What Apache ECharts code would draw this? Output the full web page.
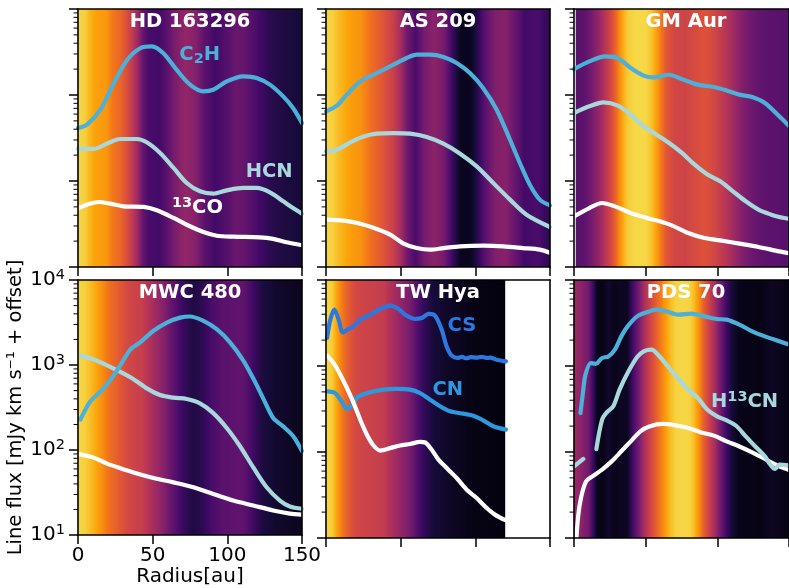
<!DOCTYPE html>
<html><head><meta charset="utf-8">
<script src="https://cdn.jsdelivr.net/npm/echarts@6/dist/echarts.min.js"></script>
<style>html,body{margin:0;padding:0;background:#fff}#c{width:789px;height:588px}</style>
</head><body><div id="c"></div>
<script>
// ---------- data: radius [au], line flux [mJy km/s + offset] ----------
const X_TICKS = [0, 50, 100, 150];
const Y_TICKS = [10, 100, 1000, 10000];
const MINOR_TICKS = [20,30,40,50,60,70,80,90,200,300,400,500,600,700,800,900,2000,3000,4000,5000,6000,7000,8000,9000];
const PANEL_NAMES = ['HD 163296', 'AS 209', 'GM Aur', 'MWC 480', 'TW Hya', 'PDS 70'];

// HD 163296
const HD163296_C2H = [[0,413],[6,452],[15,675],[24,1380],[33,2570],[42,3520],[49.4,3680],[57,3080],[66,1970],[75,1320],[84,1100],[90.6,1150],[99.6,1440],[110.7,1650],[119.6,1580],[128.5,1320],[137.4,964],[144,706],[150,472]];
const HD163296_HCN = [[0,236],[10.5,236],[19.4,272],[28.3,308],[39.4,308],[46,282],[55,212],[64,142],[72.8,94.8],[81.7,75.9],[90.6,71.3],[99.6,77.8],[110.7,83],[119.6,83],[128.5,73.8],[137.4,58.1],[144,48.5],[150,41.7]];
const HD163296_13CO = [[0,48.5],[6,53.1],[13.8,57],[21.6,54.5],[30.5,50.7],[43.9,49.9],[52.8,45.6],[64,37.2],[72.8,31],[84,25.5],[92.9,23.1],[104,22.5],[121.8,22.1],[130.7,21.2],[139.6,19.4],[150,17.9]];
// AS 209
const AS209_C2H = [[0,646],[7.3,752],[14,1010],[23,1440],[34,1800],[45.2,2250],[54,2690],[60.8,2940],[69.7,2940],[78.6,2770],[87.5,2360],[96.4,1800],[105.3,1200],[114.3,675],[123.2,302],[129.8,162],[136.5,90.6],[143.2,60.7],[150,52]];
const AS209_HCN = [[0,221],[7.3,231],[16.3,282],[25.2,330],[34,355],[45.2,361],[56.3,355],[67.5,325],[78.6,272],[89.8,208],[100.9,148],[112,94.8],[123.2,60.7],[134.3,40.6],[150,29.2]];
const AS209_13CO = [[0,35.5],[11.8,34.6],[23,31.9],[34,27.7],[43,23.8],[51.9,18.7],[60.8,16.6],[69.7,15.9],[78.6,16.6],[89.8,17.4],[105.3,17.7],[118.7,17.4],[132,16.6],[143.2,15.9],[150,14.6]];
// GM Aur
const GMAUR_C2H = [[0,2000],[10.7,2460],[21.8,2820],[30.7,2690],[39.6,2060],[48.6,1680],[55.2,1600],[66.4,1720],[75.3,1530],[86.4,1320],[97.6,1240],[106.5,1130],[115.4,1010],[124.3,948],[133.2,807],[143.2,565],[150,437]];
const GMAUR_HCN = [[0,618],[10.7,738],[20.7,822],[30.7,752],[39.6,590],[48.6,432],[57.5,346],[66.4,277],[75.3,212],[84.2,155],[93.1,119],[102,99.1],[110.9,75.9],[119.8,58.1],[128.7,46.5],[137.6,40.6],[143.2,38.1],[150,36.3]];
const GMAUR_13CO = [[0,38.8],[10.7,48.5],[19.6,55.5],[28.5,50.7],[39.6,42.5],[50.8,37.2],[59.7,34],[68.6,30.3],[79.7,24.8],[91,21.7],[102,20.4],[115.4,18.7],[128.7,17.1],[143.2,15.2],[150,14.5]];
// MWC 480
const MWC480_C2H = [[1.6,228],[8.2,372],[14.9,485],[21.6,664],[28.3,991],[35,1520],[41.6,1850],[50.6,2530],[59.5,3160],[68.4,3610],[75,3720],[84,3300],[92.9,2640],[101.8,1850],[110.7,1130],[117.4,693],[124,406],[130.7,238],[137.4,190],[144,146],[150,97.3]];
const MWC480_HCN = [[1.6,1290],[10.5,1160],[19.4,991],[28.3,830],[37.2,681],[46.1,531],[55,444],[63.9,413],[72.8,399],[81.7,355],[90.6,272],[99.6,182],[108.5,111],[117.4,62.4],[126.3,36.5],[135.2,25.5],[141.9,21.7],[150,20.4]];
const MWC480_13CO = [[1.6,89.1],[10.5,81.5],[19.4,69.3],[28.3,61.2],[37.2,54.5],[50.6,46.9],[63.9,41.7],[77.3,36.5],[90.6,30.5],[104,25.5],[117.4,22.3],[130.7,19.5],[141.9,17.9],[150,17.4]];
// TW Hya
const TWHYA_CS = [[0.7,2120],[2.9,3460],[5.6,4520],[8.5,3460],[11.4,2460],[15.1,2690],[18.5,2890],[22.9,3460],[29.6,3950],[36.3,4600],[43,5040],[48.6,4600],[53,3950],[59.7,3520],[64.1,3610],[68.6,4030],[73,3850],[77.5,2640],[80.8,1690],[84.2,1320],[88.6,1240],[91,1280],[94,1230],[97,1270],[100.9,1250],[104,1280],[107.6,1240],[110,1250],[114.3,1180],[117,1160],[120.5,1130]];
const TWHYA_CN = [[0.7,507],[6.2,485],[11.8,355],[14,316],[17.4,355],[21.8,444],[29.6,494],[38.5,531],[47.4,541],[56.3,531],[63,485],[69.7,406],[76.4,340],[83,297],[92,279],[98.7,264],[105.3,233],[112,199],[120.5,182]];
const TWHYA_13CO = [[0.7,1320],[5.1,1080],[9.6,793],[14,555],[18.5,372],[22.9,238],[27.4,159],[31.8,119],[36.3,104],[43,111],[49.7,119],[56.3,124],[63,131],[66.4,129],[70.8,106],[75.3,81.5],[80.8,65.2],[87.5,49.9],[94.2,36.5],[100.9,29.2],[107.6,22.3],[113.1,18.7],[120.5,16]];
// PDS 70
const PDS70_C2H = [[4.5,284],[6.2,485],[8,793],[11.8,1080],[15.1,1060],[19.6,1240],[24,1290],[28.5,1550],[33,2210],[37.4,2890],[44.1,3780],[50.8,4210],[57.5,4520],[64.1,4330],[73,3950],[82,4060],[90.9,3780],[99.8,3520],[106.5,3460],[115.4,3030],[124.3,2530],[133.2,2210],[143.2,1940],[150,1780]];
const PDS70_H13CN = [[0,68.1],[6.5,83],[10,null],[15.6,108],[19.6,238],[22.9,289],[27.4,340],[31.8,531],[37.4,830],[44.1,1270],[48.6,1480],[54.1,1550],[59.7,1290],[66.4,948],[73,706],[79.7,531],[86.4,425],[93.1,310],[99.8,260],[106.5,233],[113.1,202],[119.8,152],[126.5,116],[133.2,89.1],[136.5,73.1],[140.3,63.4],[143.2,71.3],[150,70]];
const PDS70_13CO = [[1.3,7.9],[2.9,17.9],[5.1,30.5],[8.5,45.6],[12.9,52.1],[19.6,62.4],[26.3,77.8],[33,102],[39.6,133],[46.3,174],[53,199],[61.9,212],[70.8,204],[79.7,190],[88.6,169],[97.6,155],[106.5,133],[115.4,116],[124.3,99.1],[133.2,83],[143.2,68.1],[150,61.7]];

// continuum background intensity (0..1, inferno colormap) vs radius
const HD163296_CONT = [[0,0.9],[5,0.88],[8,0.83],[12,0.79],[19,0.77],[23,0.7],[28,0.66],[32,0.6],[36,0.52],[40,0.42],[43,0.3],[47,0.22],[54,0.2],[59,0.25],[65,0.34],[72,0.4],[79,0.36],[85,0.26],[92,0.2],[99,0.24],[106,0.3],[112,0.28],[119,0.22],[128,0.15],[137,0.12],[150,0.1]];
const AS209_CONT = [[0,0.9],[5,0.88],[10,0.83],[17,0.78],[23,0.76],[30,0.68],[39,0.6],[46,0.52],[50,0.44],[55,0.3],[60,0.22],[66,0.33],[72,0.38],[79,0.33],[86,0.15],[90,0.05],[97,0.05],[102,0.15],[106,0.25],[113,0.35],[120,0.37],[126,0.3],[133,0.2],[142,0.22],[150,0.15]];
const GMAUR_CONT = [[1.2,0.25],[8,0.27],[14,0.35],[20,0.45],[25,0.55],[29,0.65],[32,0.75],[35,0.83],[38,0.88],[43,0.9],[50,0.9],[54,0.86],[57,0.8],[60,0.72],[64,0.62],[70,0.56],[78,0.55],[85,0.58],[92,0.6],[98,0.56],[105,0.5],[112,0.42],[118,0.35],[125,0.3],[132,0.27],[150,0.25]];
const MWC480_CONT = [[0,0.9],[5,0.88],[10,0.83],[14,0.78],[21,0.68],[28,0.62],[34,0.56],[43,0.53],[50,0.45],[57,0.37],[63,0.28],[70,0.18],[77,0.12],[83,0.15],[90,0.22],[97,0.26],[106,0.27],[110,0.28],[115,0.22],[123,0.12],[132,0.08],[150,0.05]];
const TWHYA_CONT = [[0,0.9],[4,0.88],[7,0.8],[10,0.72],[13,0.66],[17,0.6],[21,0.56],[30,0.54],[39,0.52],[43,0.47],[50,0.4],[57,0.32],[61,0.24],[66,0.16],[72,0.1],[84,0.06],[99,0.03],[120,0.02]];
const PDS70_CONT = [[0,0.42],[5,0.38],[10,0.32],[13,0.2],[16,0.05],[20,0.03],[24,0.08],[28,0.04],[33,0.06],[37,0.05],[41,0.2],[45,0.32],[49,0.45],[53,0.55],[58,0.65],[63,0.76],[67,0.84],[71,0.89],[76,0.9],[81,0.89],[84,0.84],[87,0.76],[90,0.65],[94,0.55],[98,0.45],[102,0.32],[106,0.2],[110,0.1],[115,0.04],[130,0.03],[138,0.06],[150,0.03]];

// species label anchors [radius, flux]; {b|..} = subscript, {p|..} = superscript
const LABELS_HD163296 = [['C{b|2}H',[81.5,2950]],['HCN',[128,128]],['{p|13}CO',[80,49]]];
const LABELS_TWHYA = [['CS',[91,2940]],['CN',[81.5,530]]];
const LABELS_PDS70 = [['H{p|13}CN',[119,385]]];

// ---------- styling ----------
const C_C2H = '#4cb0d8', C_HCN = '#a8d8dc', C_13CO = '#ffffff', C_CS = '#2b79df', C_CN = '#2c98de';
const FONT = 'DejaVu Sans';
const INFERNO = ['#000004','#160b39','#420a68','#6a176e','#932667','#bc3754','#dd513a','#f37819','#fca50a','#f6d746','#fcffa4'];
const INF_RGB = INFERNO.map(h => [parseInt(h.slice(1,3),16), parseInt(h.slice(3,5),16), parseInt(h.slice(5,7),16)]);
function inferno(t){
  t = Math.max(0, Math.min(1, t));
  const s = t * 10, i = Math.min(9, Math.floor(s)), f = s - i;
  const a = INF_RGB[i], b = INF_RGB[i+1];
  return 'rgb(' + a.map((v,k) => Math.round(v + (b[k]-v)*f)).join(',') + ')';
}

const GRID_POS = [[78,9],[326,9],[574,9],[78,280],[326,280],[574,280]];
const panels = [
  {cont: HD163296_CONT, lines: [[HD163296_13CO,C_13CO],[HD163296_HCN,C_HCN],[HD163296_C2H,C_C2H]], labels: LABELS_HD163296, lc: [C_C2H,C_HCN,C_13CO]},
  {cont: AS209_CONT, lines: [[AS209_13CO,C_13CO],[AS209_HCN,C_HCN],[AS209_C2H,C_C2H]], labels: [], lc: []},
  {cont: GMAUR_CONT, lines: [[GMAUR_13CO,C_13CO],[GMAUR_HCN,C_HCN],[GMAUR_C2H,C_C2H]], labels: [], lc: []},
  {cont: MWC480_CONT, lines: [[MWC480_13CO,C_13CO],[MWC480_HCN,C_HCN],[MWC480_C2H,C_C2H]], labels: [], lc: []},
  {cont: TWHYA_CONT, lines: [[TWHYA_CS,C_CS],[TWHYA_CN,C_CN],[TWHYA_13CO,C_13CO]], labels: LABELS_TWHYA, lc: [C_CS,C_CN]},
  {cont: PDS70_CONT, lines: [[PDS70_13CO,C_13CO],[PDS70_C2H,C_C2H],[PDS70_H13CN,C_HCN]], labels: LABELS_PDS70, lc: [C_HCN]}
];

function bgRender(cont){
  return function(params, api){
    const cs = params.coordSys;
    const xs = cont.map(p => api.coord([p[0], 100])[0]);
    const x0 = xs[0], x1 = xs[xs.length-1], w = x1 - x0;
    const stops = [];
    for (let i = 0; i < cont.length-1; i++){
      for (let k = 0; k < 8; k++){
        const f = k/8;
        stops.push({offset: (xs[i] + (xs[i+1]-xs[i])*f - x0)/w, color: inferno(cont[i][1] + (cont[i+1][1]-cont[i][1])*f)});
      }
    }
    stops.push({offset: 1, color: inferno(cont[cont.length-1][1])});
    return {type: 'rect', shape: {x: x0, y: cs.y, width: w, height: cs.height},
            style: {fill: new echarts.graphic.LinearGradient(0, 0, 1, 0, stops)}};
  };
}
function minorRender(params, api){
  const p = api.coord([X_TICKS[0], api.value(1)]);
  return {type: 'line', shape: {x1: p[0]-4.5, y1: p[1], x2: p[0], y2: p[1]}, style: {stroke: '#000', lineWidth: 1}};
}
function labelRender(list, colors){
  return function(params, api){
    const i = params.dataIndex;
    const p = api.coord([api.value(0), api.value(1)]);
    const base = {fill: colors[i], fontWeight: 'bold', fontFamily: FONT};
    return {type: 'text', x: p[0], y: p[1],
      style: Object.assign({text: list[i][0], fontSize: 19.5, lineHeight: 24, align: 'center', verticalAlign: 'middle',
        rich: {
          b: Object.assign({fontSize: 14.5, lineHeight: 11, verticalAlign: 'bottom'}, base),
          p: Object.assign({fontSize: 14.5, lineHeight: 15, verticalAlign: 'top'}, base)
        }}, base)};
  };
}
const SUP_EXP = v => String(Math.round(Math.log10(v)));
const axisLineStyle = {color: '#000', width: 1.6};

const grid = [], xAxis = [], yAxis = [], series = [], title = [];
GRID_POS.forEach((gp, g) => {
  grid.push({left: gp[0], top: gp[1], width: 224, height: 258});
  const showLab = (g === 3);
  xAxis.push({type: 'value', gridIndex: g, min: X_TICKS[0], max: X_TICKS[3], interval: 50, position: 'bottom', z: 10,
    axisLine: {show: true, onZero: false, lineStyle: axisLineStyle},
    axisTick: {show: true, length: 9, lineStyle: {color: '#000', width: 1.5}},
    axisLabel: {show: showLab, color: '#000', fontSize: 20, fontFamily: FONT, margin: 11},
    splitLine: {show: false},
    name: showLab ? 'Radius[au]' : '', nameLocation: 'middle', nameGap: 29,
    nameTextStyle: {color: '#000', fontSize: 20, fontFamily: FONT}});
  xAxis.push({type: 'value', gridIndex: g, min: 0, max: 150, position: 'top', z: 10,
    axisLine: {show: true, onZero: false, lineStyle: axisLineStyle},
    axisTick: {show: false}, axisLabel: {show: false}, splitLine: {show: false}});
  yAxis.push({type: 'log', logBase: 10, gridIndex: g, min: Y_TICKS[0], max: Y_TICKS[3], position: 'left', z: 10,
    axisLine: {show: true, onZero: false, lineStyle: axisLineStyle},
    axisTick: {show: true, length: 9, lineStyle: {color: '#000', width: 1.5}},
    axisLabel: {show: showLab, color: '#000', fontSize: 20, lineHeight: 24, fontFamily: FONT, margin: 13,
      formatter: v => '10{s|' + SUP_EXP(v) + '}',
      rich: {s: {fontSize: 14.5, lineHeight: 14, verticalAlign: 'top', color: '#000', fontFamily: FONT}}},
    splitLine: {show: false},
    name: showLab ? 'Line flux [mJy km s⁻¹ + offset]' : '', nameLocation: 'middle', nameGap: 43, nameRotate: 90,
    nameTextStyle: {color: '#000', fontSize: 19.5, fontFamily: FONT}});
  yAxis.push({type: 'value', gridIndex: g, min: 0, max: 1, position: 'right', z: 10,
    axisLine: {show: true, onZero: false, lineStyle: axisLineStyle},
    axisTick: {show: false}, axisLabel: {show: false}, splitLine: {show: false}});

  const P = panels[g];
  const xi = 2*g, yi = 2*g;
  series.push({type: 'custom', xAxisIndex: xi, yAxisIndex: yi, data: [[0, 100]], renderItem: bgRender(P.cont), z: 1, silent: true, clip: true});
  P.lines.forEach(([d, c]) => {
    series.push({type: 'line', xAxisIndex: xi, yAxisIndex: yi, data: d, showSymbol: false, symbol: 'none',
      smooth: 0.3, connectNulls: false, clip: true, z: 3, silent: true,
      lineStyle: {width: 4.2, color: c, cap: 'round', join: 'round'}});
  });
  if (P.labels.length){
    series.push({type: 'custom', xAxisIndex: xi, yAxisIndex: yi, z: 5, silent: true, clip: false,
      data: P.labels.map(l => l[1]), renderItem: labelRender(P.labels, P.lc)});
  }
  series.push({type: 'custom', xAxisIndex: xi, yAxisIndex: yi, data: MINOR_TICKS.map(v => [0, v]), renderItem: minorRender, z: 11, silent: true, clip: false});
  title.push({text: PANEL_NAMES[g], left: gp[0] + 112, top: gp[1] + 3, textAlign: 'center', padding: 0,
    textStyle: {color: '#fff', fontSize: 19.5, fontWeight: 'bold', fontFamily: FONT}});
});

const chart = echarts.init(document.getElementById('c'), null, {renderer: 'canvas'});
chart.setOption({animation: false, backgroundColor: '#fff', title, grid, xAxis, yAxis, series});
</script>
</body></html>
